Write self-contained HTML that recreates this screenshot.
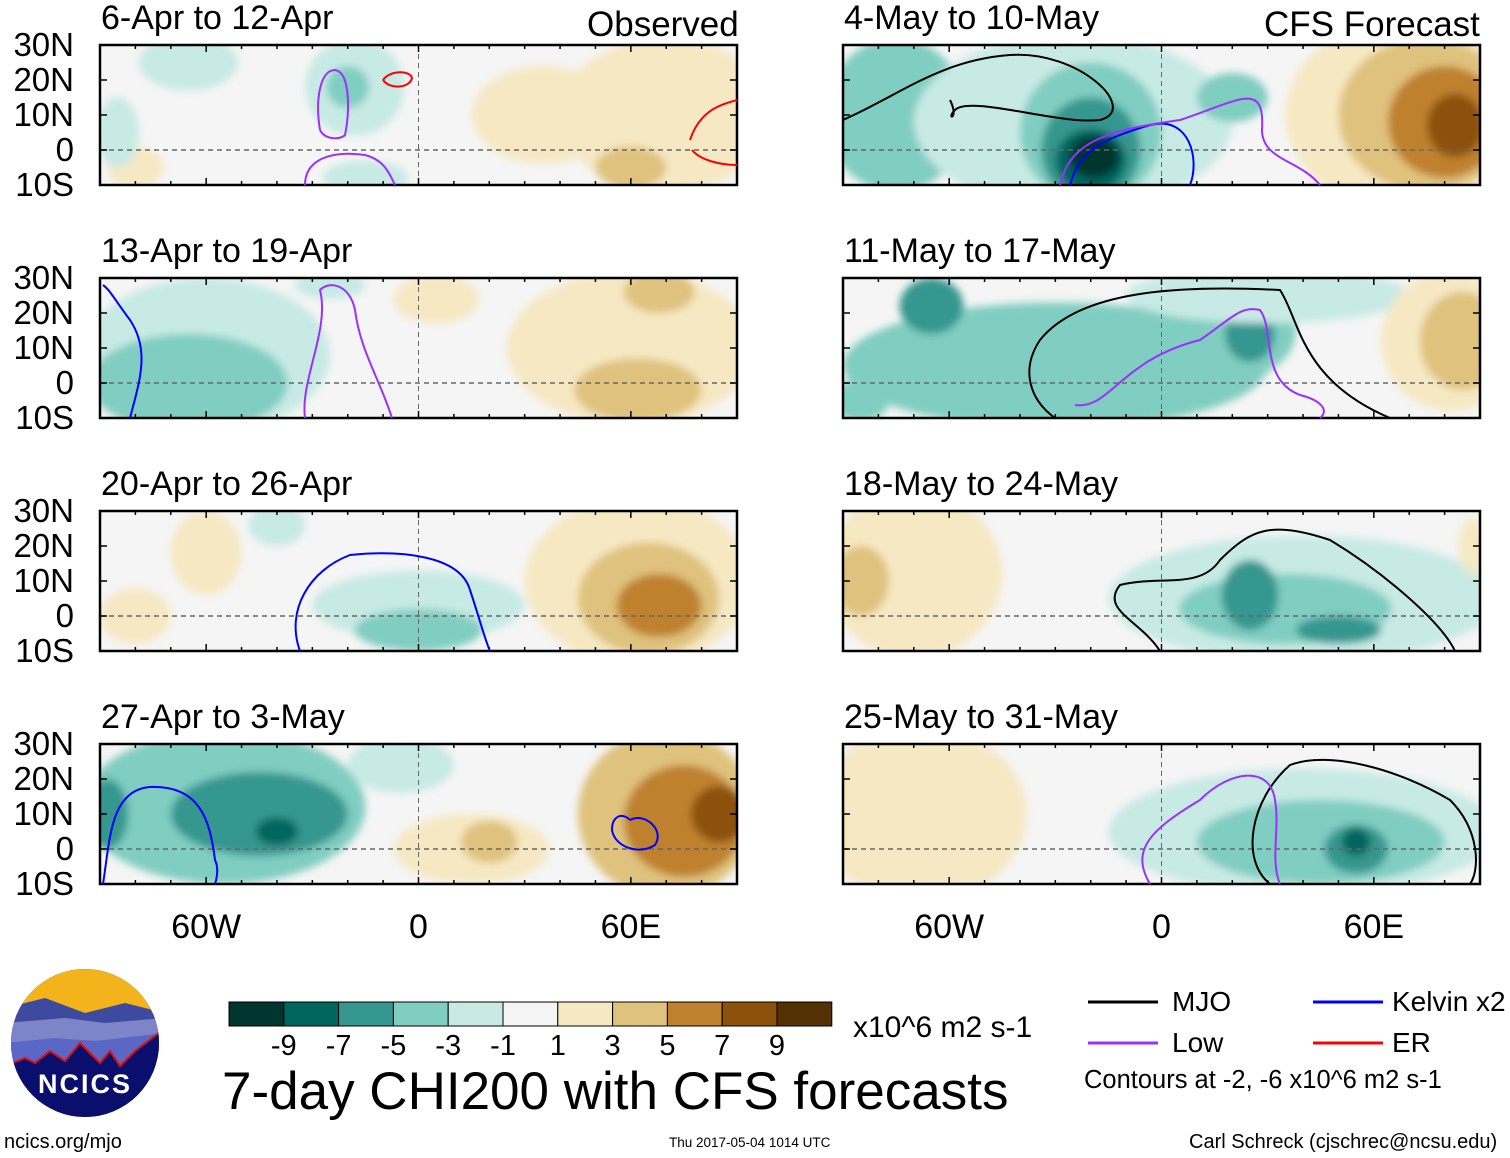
<!DOCTYPE html>
<html><head><meta charset="utf-8">
<style>
body{margin:0;background:#fff;width:1510px;height:1158px;position:relative;overflow:hidden;font-family:"Liberation Sans",sans-serif;color:#000}
.t{position:absolute;white-space:nowrap;line-height:1}
</style></head>
<body>
<svg id="main" width="1510" height="1158" style="position:absolute;left:0;top:0">
<defs><filter id="bl" x="-20%" y="-20%" width="140%" height="140%"><feGaussianBlur stdDeviation="4"/></filter></defs>
</svg>
<script>
const colors=["#01352f","#01665e","#35978f","#80cdc1","#c7eae5","#f5f5f5","#f6e8c3","#dfc27d","#bf812d","#8c510a","#543005"];
const levelIdx={"-9":0,"-7":1,"-5":2,"-3":3,"-1":4,"1":6,"3":7,"5":8,"7":9,"9":10};
const titles=["6-Apr to 12-Apr","13-Apr to 19-Apr","20-Apr to 26-Apr","27-Apr to 3-May","4-May to 10-May","11-May to 17-May","18-May to 24-May","25-May to 31-May"];
const latTicks=["30N","20N","10N","0","10S"];
const lonTicks=["60W","0","60E"];
const lonTickVals=[-60,0,60];
const cbLabels=["-9","-7","-5","-3","-1","1","3","5","7","9"];
// blobs: [lon, lat, rxDeg, ryDeg, level]
const blobs=[
 [[-65,25,14,8,-1],[-18,18,14,14,-1],[-20,18,6,6,-3],[-15,-8,12,5,-1],[35,10,20,14,1],[70,10,30,22,1],[60,-5,10,6,3],[-80,-5,8,6,1],[-85,5,6,10,-1]],
 [[-60,8,35,22,-1],[-65,0,28,14,-3],[-25,28,10,4,-1],[60,10,35,22,1],[62,-2,18,9,3],[68,26,10,6,3],[5,24,12,7,1]],
 [[-60,18,10,12,1],[-80,0,10,8,1],[0,3,30,10,-1],[0,-4,18,6,-3],[-40,26,8,6,-1],[62,10,32,24,1],[65,5,20,16,3],[68,3,12,9,5]],
 [[-55,12,40,22,-3],[-45,10,25,12,-5],[-40,5,6,4,-7],[-88,10,6,10,-5],[15,0,22,10,1],[20,2,8,6,3],[70,10,25,24,3],[75,8,17,16,5],[85,10,8,8,7],[-5,24,15,8,-1]],
 [[-75,10,20,22,-3],[-25,8,45,25,-1],[-20,5,20,20,-3],[-20,0,14,15,-5],[-20,-3,10,9,-7],[-19,-2,7,6,-9],[20,15,10,7,-3],[70,10,35,28,1],[75,10,25,22,3],[80,8,16,16,5],[83,7,8,9,7]],
 [[-30,5,60,18,-3],[-65,22,9,8,-5],[20,15,18,14,-3],[25,14,7,8,-5],[30,25,40,8,-1],[82,12,20,20,1],[85,12,12,14,3],[-85,-5,8,6,-3]],
 [[-70,12,25,24,1],[-85,10,8,10,3],[40,5,55,18,-1],[35,2,30,10,-3],[25,6,8,10,-5],[50,-4,12,4,-5],[88,20,4,8,1]],
 [[-68,10,30,25,1],[40,5,55,18,-1],[45,2,35,12,-3],[55,0,9,7,-5],[55,2,4,4,-7]]
];
const frames=[[100,45],[100,278],[100,511],[100,744],[843,45],[843,278],[843,511],[843,744]];
const W=637,H=140;
const svg=document.getElementById('main');
const NS="http://www.w3.org/2000/svg";
function mk(t,a,p){const e=document.createElementNS(NS,t);for(const k in a)e.setAttribute(k,a[k]);(p||svg).appendChild(e);return e;}
const xs=(x0,lon)=>x0+(lon+90)/180*W;
const ys=(y0,lat)=>y0+(30-lat)/40*H;
frames.forEach((f,i)=>{
 const [x0,y0]=f;
 const g=mk('g',{});
 
 
 const cp=mk('clipPath',{id:'c'+i});mk('rect',{x:x0,y:y0,width:W,height:H},cp);
 const inner=mk('g',{'clip-path':'url(#c'+i+')'},g);
 mk('rect',{x:x0,y:y0,width:W,height:H,fill:colors[5]},inner);
 const bg=mk('g',{filter:'url(#bl)'},inner);
 blobs[i].forEach(b=>{
  const el=mk('ellipse',{cx:xs(x0,b[0]),cy:ys(y0,b[1]),rx:b[2]/180*W,ry:b[3]/40*H,fill:colors[levelIdx[String(b[4])]]},bg);
  
  
 });
 mk('line',{x1:x0,x2:x0+W,y1:ys(y0,0),y2:ys(y0,0),stroke:'#666','stroke-width':1.5,'stroke-dasharray':'5,4'},inner);
 mk('line',{x1:xs(x0,0),x2:xs(x0,0),y1:y0,y2:y0+H,stroke:'#666','stroke-width':1,'stroke-dasharray':'5,4'},inner);
 mk('rect',{x:x0,y:y0,width:W,height:H,fill:'none',stroke:'#000','stroke-width':2.5},g);
 for(let lon=-90;lon<=90;lon+=10){const x=xs(x0,lon);const L=lon%60===0?7:4;mk('line',{x1:x,x2:x,y1:y0,y2:y0+L,stroke:'#000','stroke-width':1.5},g);mk('line',{x1:x,x2:x,y1:y0+H,y2:y0+H-L,stroke:'#000','stroke-width':1.5},g);}
 for(let lat=-10;lat<=30;lat+=10){const y=ys(y0,lat);mk('line',{x1:x0,x2:x0+7,y1:y,y2:y,stroke:'#000','stroke-width':1.5},g);mk('line',{x1:x0+W,x2:x0+W-7,y1:y,y2:y,stroke:'#000','stroke-width':1.5},g);}
 const tt=document.createElement('div');tt.className='t';tt.textContent=titles[i];
 tt.style.cssText='left:'+(x0+1)+'px;top:'+(y0-44)+'px;font-size:34px';
 
 
 document.body.appendChild(tt);
 if(i<4){latTicks.forEach((l,k)=>{const d=document.createElement('div');d.className='t';d.textContent=l;d.style.cssText='right:'+(1510-74)+'px;top:'+(y0-17+k*35)+'px;font-size:33px';
 
 
 document.body.appendChild(d);});}
 if(i===3||i===7){lonTicks.forEach((l,k)=>{const d=document.createElement('div');d.className='t';d.textContent=l;d.style.cssText='left:'+(xs(x0,lonTickVals[k])-50)+'px;width:100px;text-align:center;top:'+(y0+H+26)+'px;font-size:34px';
 
 
 document.body.appendChild(d);});}
});
// contours (approximate)
const contours=[
 ["M843,120 C900,95 940,60 1010,55 C1080,50 1140,110 1100,120 C1060,125 970,95 955,110 C945,120 960,120 950,100","#000"],
 ["M1070,185 C1080,150 1100,140 1150,125 C1190,115 1200,160 1190,185","#0000ff"],
 ["M1060,185 C1070,140 1110,130 1180,120 C1240,100 1265,80 1262,130 C1262,160 1300,160 1320,185","#9b30ff"],
 ["M1055,418 C1030,400 1020,370 1040,340 C1080,290 1180,285 1280,290 C1300,320 1300,380 1390,418","#000"],
 ["M1075,405 C1110,410 1120,360 1200,340 C1230,320 1240,305 1260,310 C1275,330 1260,380 1300,395 C1320,400 1330,410 1320,418","#9b30ff"],
 ["M1160,651 C1140,620 1100,610 1120,585 C1160,575 1200,590 1220,560 C1250,530 1270,520 1330,540 C1380,570 1440,620 1455,651","#000"],
 ["M1270,884 C1240,860 1250,800 1290,765 C1330,750 1400,770 1450,800 C1480,830 1480,870 1470,884","#000"],
 ["M1150,884 C1130,850 1150,830 1200,800 C1230,770 1270,765 1275,800 C1280,830 1270,860 1280,884","#9b30ff"],
 ["M300,651 C285,610 310,570 350,555 C400,550 460,555 470,590 C480,620 485,640 490,651","#0000ff"],
 ["M103,884 C110,840 110,790 150,787 C200,785 210,820 215,860 C220,870 215,884 215,884","#0000ff"],
 ["M630,820 C645,812 665,830 655,845 C640,855 615,848 612,830 C612,816 622,812 630,820","#0000ff"],
 ["M305,418 C300,380 330,330 320,290 C330,280 350,285 355,310 C360,350 380,380 392,418","#9b30ff"],
 ["M130,418 C140,380 150,350 130,320 C115,300 110,290 103,285","#0000ff"],
 ["M690,140 C700,110 720,105 737,100 M737,165 C720,165 700,160 692,150","#ff0000"],
 ["M383,80 C390,70 410,70 412,78 C410,88 390,90 383,80","#ff0000"],
 ["M320,130 C315,100 320,70 335,70 C350,72 350,110 345,135 C340,140 325,140 320,130","#9b30ff"],
 ["M305,185 C305,160 330,150 365,155 C385,160 390,175 395,185","#9b30ff"],
];
contours.forEach(c=>{const p=mk('path',{d:c[0],fill:'none',stroke:c[1],'stroke-width':2});
 
 });
// colorbar
const cb=mk('g',{});


colors.forEach((c,k)=>{mk('rect',{x:229+k*54.8,y:1002,width:54.8,height:24,fill:c,stroke:'#000','stroke-width':1},cb);});
cbLabels.forEach((l,k)=>{const t=mk('text',{x:229+(k+1)*54.8,y:1055,'font-size':29,'text-anchor':'middle','font-family':'Liberation Sans'},cb);t.textContent=l;});
// legend lines
[[1088,1002,'#000'],[1313,1002,'#0000ff'],[1088,1043,'#9b30ff'],[1313,1043,'#ff0000']].forEach(a=>{const l=mk('line',{x1:a[0],x2:a[0]+70,y1:a[1],y2:a[1],stroke:a[2],'stroke-width':3});
 
 });
</script>
<div class="t" style="left:587px;top:7px;font-size:35px">Observed</div>
<div class="t" style="left:1264px;top:7px;font-size:35px">CFS Forecast</div>
<div class="t" style="left:853px;top:1013px;font-size:30px">x10^6 m2 s-1</div>
<div class="t" style="left:222px;top:1065px;font-size:53px">7-day CHI200 with CFS forecasts</div>
<div class="t" style="left:1172px;top:988px;font-size:28px">MJO</div>
<div class="t" style="left:1392px;top:988px;font-size:28px">Kelvin x2</div>
<div class="t" style="left:1172px;top:1029px;font-size:28px">Low</div>
<div class="t" style="left:1392px;top:1029px;font-size:28px">ER</div>
<div class="t" style="left:1084px;top:1068px;font-size:25.5px">Contours at -2, -6 x10^6 m2 s-1</div>
<div class="t" style="left:4px;top:1132px;font-size:20px">ncics.org/mjo</div>
<div class="t" style="left:669px;top:1136px;font-size:13.5px">Thu 2017-05-04 1014 UTC</div>
<div class="t" style="left:1189px;top:1132px;font-size:20px">Carl Schreck (cjschrec@ncsu.edu)</div>
<svg width="160" height="160" style="position:absolute;left:5px;top:963px">
<defs><clipPath id="lc"><circle cx="80" cy="80" r="74"/></clipPath></defs>
<g clip-path="url(#lc)">
<rect width="160" height="160" fill="#0a0f6e"/>
<rect width="160" height="60" fill="#f2b41a"/>
<path d="M0,45 L40,35 L80,50 L120,40 L160,50 L160,80 L0,90Z" fill="#3d4aa0"/>
<path d="M0,60 L60,55 L100,60 L160,55 L160,90 L0,100Z" fill="#7d85c8"/>
<path d="M0,80 L50,75 L90,78 L160,70 L160,110 L0,110Z" fill="#5a67c4"/>
<path d="M0,103 L20,95 L30,100 L45,88 L60,98 L75,80 L95,100 L105,88 L115,103 L130,88 L160,65 L160,160 L0,160Z" fill="#0a0f6e" stroke="#e01010" stroke-width="2"/>
</g>
<text x="80" y="130" font-size="27" font-weight="bold" fill="#fff" text-anchor="middle" font-family="Liberation Sans" letter-spacing="2">NCICS</text>
</svg>
</body></html>
